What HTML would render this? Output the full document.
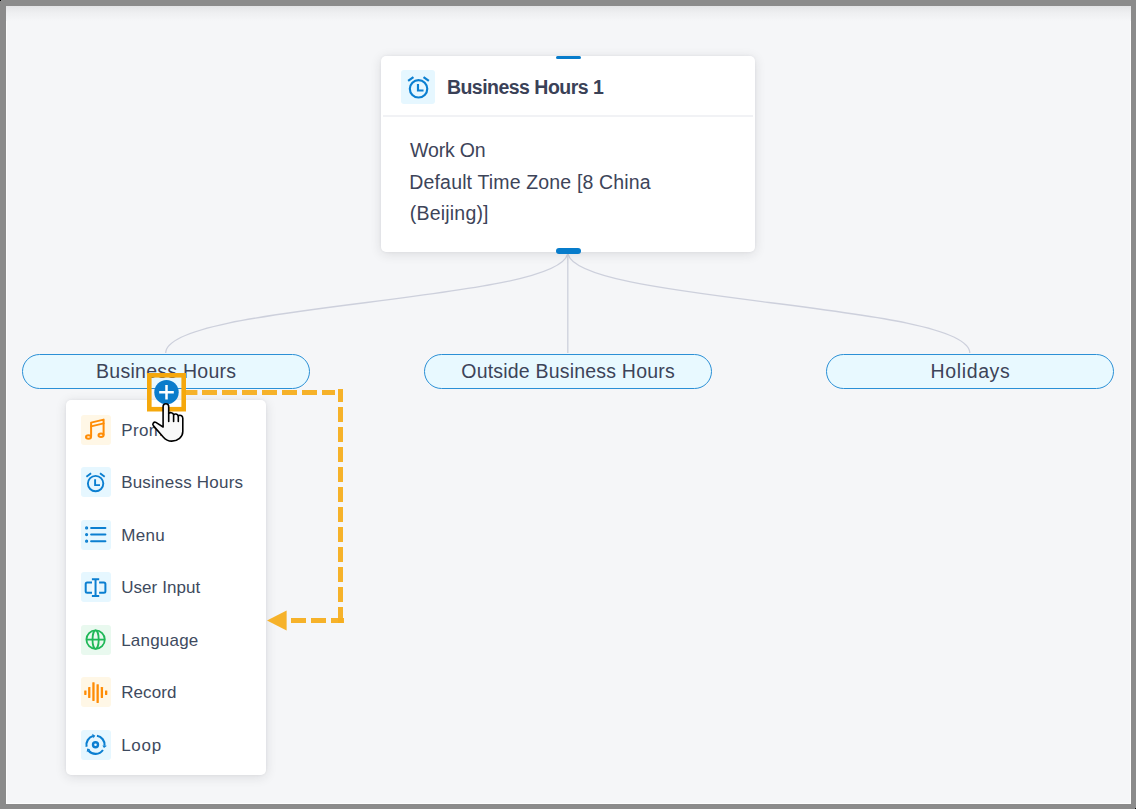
<!DOCTYPE html>
<html>
<head>
<meta charset="utf-8">
<style>
html,body{margin:0;padding:0;}
body{width:1137px;height:810px;overflow:hidden;background:#fff;font-family:"Liberation Sans",sans-serif;position:relative;}
#frame{position:absolute;left:0;top:0;width:1136px;height:809px;background:#8b8b8b;}
#canvas{position:absolute;left:6px;top:6px;width:1125px;height:798px;background:#f5f6f8;overflow:hidden;box-shadow:inset 1px 0 0 #fdfdfd, inset -1px 0 0 #fdfdfd, inset 0 -1px 0 #fdfdfd;}
#topshade{position:absolute;left:0;top:0;width:100%;height:15px;background:linear-gradient(#e3e4e6,#eeeff1 45%,#f5f6f8);}
.abs{position:absolute;}
.t{position:absolute;white-space:nowrap;color:#3d4459;line-height:1;}
#card{position:absolute;left:375px;top:50px;width:373.7px;height:196px;background:#fff;border-radius:5px;box-shadow:0 2px 12px rgba(30,35,45,.12),0 0 3px rgba(30,35,45,.06);}
#card .hd{position:absolute;left:2px;right:2px;top:59px;height:2px;background:#f1f2f5;}
.ib{position:absolute;border-radius:3px;}
.pill{position:absolute;top:347.5px;width:285.8px;height:33.4px;border:1.2px solid #2b90d6;border-radius:18px;background:#e8f9ff;}
#pop{position:absolute;left:60px;top:394px;width:200px;height:375px;background:#fff;border-radius:5px;box-shadow:0 2px 12px rgba(30,35,45,.12),0 0 3px rgba(30,35,45,.06);}
.pi{font-size:16.8px;color:#3e4a5e;}
.hb{position:absolute;width:25px;background:#077ccb;border-radius:3px;left:549.5px;}
</style>
</head>
<body>
<div id="frame"></div>
<div class="abs" style="left:0;top:0;width:1px;height:1px;background:#000;z-index:5"></div>
<div class="abs" style="left:1135px;top:808px;width:1px;height:1px;background:#000;z-index:5"></div>
<div id="canvas">
  <div id="topshade"></div>

  <!-- connector lines -->
  <svg class="abs" style="left:0;top:0" width="1125" height="798" viewBox="6 6 1125 798" fill="none">
    <g stroke="#cdd0dc" stroke-width="1.3">
      <path d="M567.8 252 C567.8 302.5 165.7 302.5 165.7 353"/>
      <path d="M567.8 252 L567.8 353"/>
      <path d="M567.8 252 C567.8 302.5 969.8 302.5 969.8 353"/>
    </g>
  </svg>

  <!-- card -->
  <div id="card">
    <div class="hd"></div>
    <div class="ib" style="left:20px;top:13.6px;width:34px;height:34px;background:#e6f7ff;"></div>
  </div>
  <div class="hb" style="top:49.5px;height:3.7px;border-radius:2px;"></div>
  <div class="hb" style="top:242.4px;height:5.3px;"></div>

  <div class="t" id="title" style="left:440.9px;top:71.75px;font-weight:bold;color:#3a4157;font-size:19.5px;letter-spacing:-0.52px;">Business Hours 1</div>
  <div class="t" id="l1" style="left:404.1px;top:134.5px;font-size:19.5px;letter-spacing:-0.18px;">Work On</div>
  <div class="t" id="l2" style="left:403.3px;top:166.6px;font-size:19.5px;letter-spacing:0.16px;">Default Time Zone [8 China</div>
  <div class="t" id="l3" style="left:403.8px;top:197.9px;font-size:19.5px;letter-spacing:0.2px;">(Beijing)]</div>

  <!-- pills -->
  <div class="pill" style="left:16px;"></div>
  <div class="pill" style="left:418px;"></div>
  <div class="pill" style="left:820px;"></div>
  <div class="t" id="p1" style="left:90.0px;top:355.9px;font-size:19.5px;letter-spacing:0.26999999999999996px;">Business Hours</div>
  <div class="t" id="p2" style="left:455.3px;top:355.9px;font-size:19.5px;letter-spacing:0.2px;">Outside Business Hours</div>
  <div class="t" id="p3" style="left:924.6px;top:355.9px;font-size:19.5px;letter-spacing:0.62px;">Holidays</div>

  <!-- popup -->
  <div id="pop"></div>
  <svg class="abs" style="left:75px;top:409px" width="30" height="30" viewBox="0 0 30 30"><rect width="30" height="30" rx="3" fill="#fff7e6"/><g fill="none" stroke="#ff8c05" stroke-width="2" stroke-linejoin="round" stroke-linecap="round"><path d="M10.1 21.3 V7.6 L22.6 4.6 V19.8"/><path d="M10.1 11.4 L22.6 8.4"/><ellipse cx="7.5" cy="22" rx="2.5" ry="1.7"/><ellipse cx="20" cy="20.3" rx="2.5" ry="1.7"/></g></svg>
  <div class="t pi" id="m0" style="left:115.15px;top:415.9px;font-size:17.0px;letter-spacing:0.4px;">Prompt</div>
  <svg class="abs" style="left:75px;top:461px" width="30" height="30" viewBox="0 0 30 30"><rect width="30" height="30" rx="3" fill="#e6f7ff"/><g fill="none" stroke="#0b7fd1" stroke-width="1.9"><circle cx="14.6" cy="16.6" r="7.7"/><path d="M14.1 12.3 V18.1 H19"/><path d="M5.4 9.7 L10.1 6.3 M19 6.3 L23.7 9.7"/></g></svg>
  <div class="t pi" id="m1" style="left:115.15px;top:468.3px;font-size:17.0px;letter-spacing:0.22px;">Business Hours</div>
  <svg class="abs" style="left:75px;top:514px" width="30" height="30" viewBox="0 0 30 30"><rect width="30" height="30" rx="3" fill="#e6f7ff"/><g fill="#0b7fd1" stroke="#0b7fd1" stroke-width="2" stroke-linecap="round"><circle cx="5.6" cy="7.9" r="0.6"/><circle cx="5.6" cy="14.6" r="0.6"/><circle cx="5.6" cy="21.2" r="0.6"/><path d="M10.1 7.9 H24.4 M10.1 14.6 H24.4 M10.1 21.2 H24.4"/></g></svg>
  <div class="t pi" id="m2" style="left:115.15px;top:520.5px;font-size:17.0px;letter-spacing:0.38000000000000006px;">Menu</div>
  <svg class="abs" style="left:75px;top:566px" width="30" height="30" viewBox="0 0 30 30"><rect width="30" height="30" rx="3" fill="#e6f7ff"/><g fill="none" stroke="#0b7fd1" stroke-width="2"><path d="M11 10.5 H6.2 a1.5 1.5 0 0 0 -1.5 1.5 V19.2 a1.5 1.5 0 0 0 1.5 1.5 H11"/><path d="M18.1 10.5 H22.9 a1.5 1.5 0 0 1 1.5 1.5 V19.2 a1.5 1.5 0 0 1 -1.5 1.5 H18.1"/><rect x="11.2" y="8.2" width="6.8" height="14.8" fill="#f3fbff" stroke="none"/><path d="M10.9 7.3 H18.2 M10.9 24 H18.2 M14.55 7.3 V24"/></g></svg>
  <div class="t pi" id="m3" style="left:115.15px;top:573.4px;font-size:17.0px;letter-spacing:0.08px;">User Input</div>
  <svg class="abs" style="left:75px;top:619px" width="30" height="30" viewBox="0 0 30 30"><rect width="30" height="30" rx="3" fill="#e9f9ef"/><g fill="none" stroke="#1fb858" stroke-width="1.8"><circle cx="14.6" cy="14.6" r="9.2"/><ellipse cx="14.6" cy="14.6" rx="3.1" ry="9.2"/><path d="M5.4 14.6 H23.8"/></g></svg>
  <div class="t pi" id="m4" style="left:115.15px;top:625.9px;font-size:17.0px;letter-spacing:0.21px;">Language</div>
  <svg class="abs" style="left:75px;top:671px" width="30" height="30" viewBox="0 0 30 30"><rect width="30" height="30" rx="3" fill="#fff7e6"/><g fill="#ff8c05"><rect x="3.20" y="13.4" width="2.3" height="4.5" rx="0.4"/><rect x="7.10" y="10.1" width="2.3" height="10.9" rx="0.4"/><rect x="11.30" y="5.3" width="2.3" height="18.6" rx="0.4"/><rect x="15.50" y="7.2" width="2.3" height="18.8" rx="0.4"/><rect x="19.75" y="10.1" width="2.3" height="10.9" rx="0.4"/><rect x="24.00" y="13.4" width="2.3" height="4.5" rx="0.4"/></g></svg>
  <div class="t pi" id="m5" style="left:115.15px;top:678.4px;font-size:17.0px;letter-spacing:0.11px;">Record</div>
  <svg class="abs" style="left:75px;top:724px" width="30" height="30" viewBox="0 0 30 30"><rect width="30" height="30" rx="3" fill="#e6f7ff"/><path d="M5.60 16.69 A9.1 9.1 0 0 1 11.99 6.05" fill="none" stroke="#0b7fd1" stroke-width="2.1"/><path d="M14.34 5.70 L11.14 3.80 L12.48 8.20 Z" fill="#0b7fd1"/><path d="M15.92 5.81 A9.1 9.1 0 0 1 23.55 15.75" fill="none" stroke="#0b7fd1" stroke-width="2.1"/><path d="M23.00 18.06 L25.96 15.80 L21.37 15.40 Z" fill="#0b7fd1"/><path d="M21.95 20.02 A9.1 9.1 0 0 1 7.43 20.53" fill="none" stroke="#0b7fd1" stroke-width="2.1"/><path d="M6.19 18.50 L5.69 22.19 L9.21 19.24 Z" fill="#0b7fd1"/><circle cx="14.5" cy="14.8" r="2.5" fill="none" stroke="#0b7fd1" stroke-width="2.4"/></svg>
  <div class="t pi" id="m6" style="left:115.15px;top:730.5px;font-size:17.0px;letter-spacing:0.75px;">Loop</div>
<svg class="abs" style="left:396px;top:63.8px" width="34" height="34" viewBox="0 0 30 30"><g fill="none" stroke="#0b7fd1" stroke-width="1.9"><circle cx="14.6" cy="16.6" r="7.7"/><path d="M14.1 12.3 V18.1 H19"/><path d="M5.4 9.7 L10.1 6.3 M19 6.3 L23.7 9.7"/></g></svg>
<svg class="abs" style="left:0;top:0" width="1125" height="798" viewBox="6 6 1125 798">
<g fill="#f5ae1f" fill-opacity="0.95"><rect x="182" y="390" width="15.400000000000006" height="5"/><rect x="202" y="390" width="15" height="5"/><rect x="222" y="390" width="15" height="5"/><rect x="242" y="390" width="15" height="5"/><rect x="262" y="390" width="15" height="5"/><rect x="282" y="390" width="15" height="5"/><rect x="302" y="390" width="15" height="5"/><rect x="322" y="390" width="13" height="5"/><rect x="338" y="389" width="5" height="13"/><rect x="338" y="407" width="5" height="15"/><rect x="338" y="427" width="5" height="15"/><rect x="338" y="447" width="5" height="15"/><rect x="338" y="467" width="5" height="15"/><rect x="338" y="487" width="5" height="15"/><rect x="338" y="507" width="5" height="15"/><rect x="338" y="527" width="5" height="15"/><rect x="338" y="547" width="5" height="15"/><rect x="338" y="567" width="5" height="15"/><rect x="338" y="587" width="5" height="15"/><rect x="338" y="607" width="5" height="16"/><rect x="331" y="618" width="13" height="5"/><rect x="311" y="618" width="15" height="5"/><rect x="291" y="618" width="15" height="5"/><path d="M267 620.5 L286.6 610.6 V630.4 Z"/></g>
<circle cx="166.5" cy="392.2" r="12.2" fill="#0a7ccb"/><path d="M159.2 392.2 H173.8 M166.5 384.9 V399.5" stroke="#fff" stroke-width="2.5" fill="none"/>
<rect x="149.3" y="375.3" width="34.4" height="33.9" fill="none" stroke="#f5a80c" stroke-width="4.6"/>
<g stroke="#000" stroke-width="1.6" stroke-linejoin="round" stroke-linecap="round">
<path fill="#f9f9f9" d="M163.1 427 V406.6 a2.8 2.8 0 0 1 5.6 0 V413.4 c1.2 -1.1 4.1 -1.2 4.9 1.2 c1.1 -1.1 3.8 -0.9 4.7 1.3 c1.3 -1.2 4.5 -0.5 4.5 2.3 V431.5 c0 5.5 -5 9.6 -11 9.6 c-3.6 0 -6.4 -1.6 -8.6 -4.2 L153.3 425.6 c-1.3 -1.8 0.6 -4.2 2.6 -3.2 Z"/>
<path fill="none" d="M168.7 413.4 V421.5 M173.6 414.8 V421.5 M178.3 416 V421.5"/>
</g>
</svg>
</div>
</body>
</html>
